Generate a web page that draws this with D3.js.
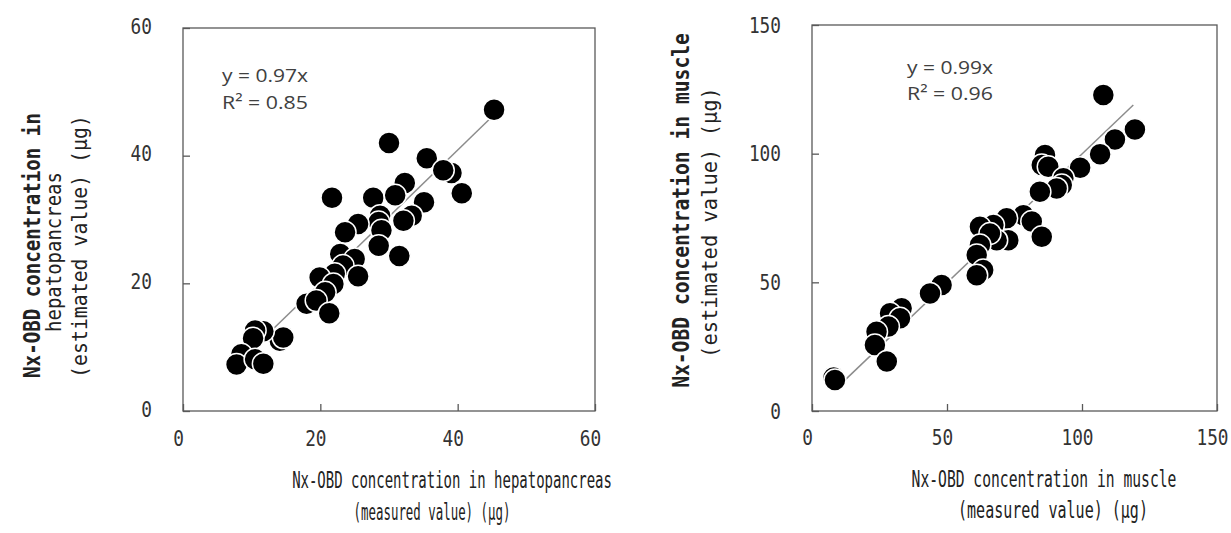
<!DOCTYPE html>
<html>
<head>
<meta charset="utf-8">
<script src="https://cdn.jsdelivr.net/npm/d3@7"></script>
<style>
  body { margin: 0; background: #fff; }
  .mono { font-family: "DejaVu Sans Mono", "Liberation Mono", monospace; }
</style>
</head>
<body>
<div id="chart"></div>
<script>
// hepatopancreas panel: measured (x) vs estimated (y), in µg
const hepMeasured = [45.3, 30.0, 35.5, 39.1, 37.9, 40.6, 21.7, 27.7, 32.3, 30.9, 35.1, 33.3, 32.1,
  28.7, 28.5, 28.9, 25.5, 23.6, 28.5, 31.5, 22.9, 25.0, 23.3, 22.1, 25.5, 19.9, 21.9, 20.7,
  18.0, 19.4, 21.3, 14.1, 14.6, 11.7, 10.5, 10.2, 8.5, 7.8, 10.5, 11.7];
const hepEstimated = [47.2, 42.0, 39.6, 37.3, 37.7, 34.1, 33.4, 33.4, 35.7, 33.8, 32.7, 30.6, 29.8,
  30.6, 29.6, 28.3, 29.3, 28.0, 25.9, 24.3, 24.6, 23.8, 22.8, 21.5, 21.1, 20.9, 19.9, 18.6,
  16.8, 17.3, 15.3, 11.0, 11.5, 12.5, 12.6, 11.4, 8.9, 7.3, 8.1, 7.4];
const hepFitX = [7.8, 45.3];
const hepFitY = [7.3, 46.4];
const hepTicks = [0, 20, 40, 60];
const hepEquation = ["y = 0.97x", "R² = 0.85"];

// muscle panel
const musMeasured = [107.9, 119.6, 112.2, 106.7, 99.3, 86.3, 85.1, 87.5, 93.1, 92.5, 90.6, 84.4,
  78.3, 81.4, 85.1, 72.1, 67.2, 62.2, 72.7, 68.4, 65.9, 62.2, 61.0, 63.4, 61.0, 48.0, 43.7,
  33.2, 28.9, 32.6, 28.3, 23.9, 23.3, 27.7, 8.0, 8.5];
const musEstimated = [122.8, 109.4, 105.5, 99.8, 94.5, 99.5, 95.6, 94.9, 90.4, 87.8, 86.5, 85.2,
  76.1, 73.6, 67.7, 74.9, 72.3, 71.6, 66.4, 66.4, 69.0, 64.5, 60.6, 54.8, 52.8, 49.0, 45.7,
  39.9, 38.0, 36.0, 32.8, 30.8, 25.6, 19.2, 13.0, 12.0];
const musFitX = [8.5, 119.0];
const musFitY = [8.3, 118.9];
const musTicks = [0, 50, 100, 150];
const musEquation = ["y = 0.99x", "R² = 0.96"];

const svg = d3.select("#chart").append("svg")
  .attr("width", 1231)
  .attr("height", 533);

// narrow a text horizontally (tall, condensed gothic look) so it spans `len` px
function squeeze(node, len, x, y, rot) {
  const w = node.getComputedTextLength();
  const sx = len / w;
  d3.select(node)
    .attr("x", null).attr("y", null)
    .attr("transform", `translate(${x},${y})${rot ? " rotate(-90)" : ""} scale(${sx},1)`);
}

function drawPanel(p) {
  const g = svg.append("g");
  const [x0, x1] = p.x.range();
  const [y0, y1] = p.y.range();

  // frame
  g.append("rect")
    .attr("x", x0).attr("y", y1)
    .attr("width", x1 - x0).attr("height", y0 - y1)
    .attr("fill", "none")
    .attr("stroke", "#595959")
    .attr("stroke-width", 1.3);

  // inward ticks, labels far out
  const xAxis = g.append("g")
    .attr("transform", `translate(0,${y0})`)
    .call(d3.axisBottom(p.x).tickValues(p.ticks).tickSizeInner(-7).tickSizeOuter(0));
  const yAxis = g.append("g")
    .attr("transform", `translate(${x0},0)`)
    .call(d3.axisLeft(p.y).tickValues(p.ticks).tickSizeInner(-7).tickSizeOuter(0));

  [xAxis, yAxis].forEach(a => {
    a.select(".domain").remove();
    a.selectAll(".tick line").attr("stroke", "#595959").attr("stroke-width", 1.3);
    a.selectAll(".tick text")
      .attr("class", "mono")
      .attr("dy", 0)
      .style("font-size", "22px")
      .attr("fill", "#333");
  });
  xAxis.selectAll(".tick text").each(function (d) {
    squeeze(this, String(d).length * 10.7, -5, p.xLabelY);
  });
  yAxis.selectAll(".tick text").each(function (d) {
    squeeze(this, String(d).length * 10.7, -31, p.yLabelY);
  });

  // fitted line
  const line = d3.line().x(d => p.x(d[0])).y(d => p.y(d[1]));
  g.append("path")
    .datum(d3.zip(p.fitX, p.fitY))
    .attr("d", line)
    .attr("fill", "none")
    .attr("stroke", "#8c8c8c")
    .attr("stroke-width", 1.5);

  // points
  g.selectAll("circle")
    .data(d3.zip(p.xs, p.ys))
    .enter()
    .append("circle")
    .attr("cx", d => p.x(d[0]))
    .attr("cy", d => p.y(d[1]))
    .attr("r", 11)
    .attr("fill", "#000")
    .attr("stroke", "#fff")
    .attr("stroke-width", 1.5);

  // equation
  g.selectAll(".eq")
    .data(p.equation)
    .enter()
    .append("text")
    .attr("class", "eq")
    .attr("x", p.eqX)
    .attr("y", (d, i) => p.eqY + i * 26.5)
    .attr("textLength", 86)
    .attr("lengthAdjust", "spacingAndGlyphs")
    .style("font-family", "'Open Sans', 'Noto Sans', sans-serif")
    .style("font-size", "19px")
    .attr("fill", "#404040")
    .text(d => d);

  // axis titles
  p.xTitle.forEach(t => {
    const node = svg.append("text")
      .attr("class", "mono")
      .attr("text-anchor", "middle")
      .style("font-size", "22.5px")
      .attr("fill", "#222")
      .text(t.text)
      .node();
    squeeze(node, t.len, t.cx, t.y);
  });
  p.yTitle.forEach(t => {
    const node = svg.append("text")
      .attr("class", "mono")
      .attr("text-anchor", "middle")
      .style("font-size", t.size + "px")
      .style("font-weight", t.bold ? "bold" : "normal")
      .attr("fill", "#222")
      .text(t.text)
      .node();
    squeeze(node, t.len, t.x, t.cy, true);
  });
}

drawPanel({
  x: d3.scaleLinear().domain([0, 60]).range([183, 595]),
  y: d3.scaleLinear().domain([0, 60]).range([411, 28]),
  xs: hepMeasured, ys: hepEstimated,
  fitX: hepFitX, fitY: hepFitY,
  ticks: hepTicks,
  xLabelY: 35, yLabelY: 5,
  equation: hepEquation, eqX: 222, eqY: 82,
  xTitle: [
    { text: "Nx-OBD concentration in hepatopancreas", cx: 452, y: 488, len: 320 },
    { text: "(measured value) (μg)", cx: 432, y: 520, len: 157 }
  ],
  yTitle: [
    { text: "Nx-OBD concentration in", x: 40, cy: 245.5, len: 265, size: 23, bold: true },
    { text: "hepatopancreas", x: 61, cy: 252, len: 160, size: 22 },
    { text: "(estimated value)  (μg)", x: 87, cy: 246.5, len: 263, size: 22 }
  ]
});

drawPanel({
  x: d3.scaleLinear().domain([0, 150]).range([812, 1217]),
  y: d3.scaleLinear().domain([0, 150]).range([411, 25]),
  xs: musMeasured, ys: musEstimated,
  fitX: musFitX, fitY: musFitY,
  ticks: musTicks,
  xLabelY: 34, yLabelY: 7,
  equation: musEquation, eqX: 907, eqY: 73.5,
  xTitle: [
    { text: "Nx-OBD concentration in muscle", cx: 1044, y: 487, len: 265 },
    { text: "(measured value)  (μg)", cx: 1053, y: 518, len: 190 }
  ],
  yTitle: [
    { text: "Nx-OBD concentration in muscle", x: 689, cy: 210.5, len: 355, size: 23, bold: true },
    { text: "(estimated value)  (μg)", x: 717, cy: 222.5, len: 271, size: 22 }
  ]
});
</script>
</body>
</html>
